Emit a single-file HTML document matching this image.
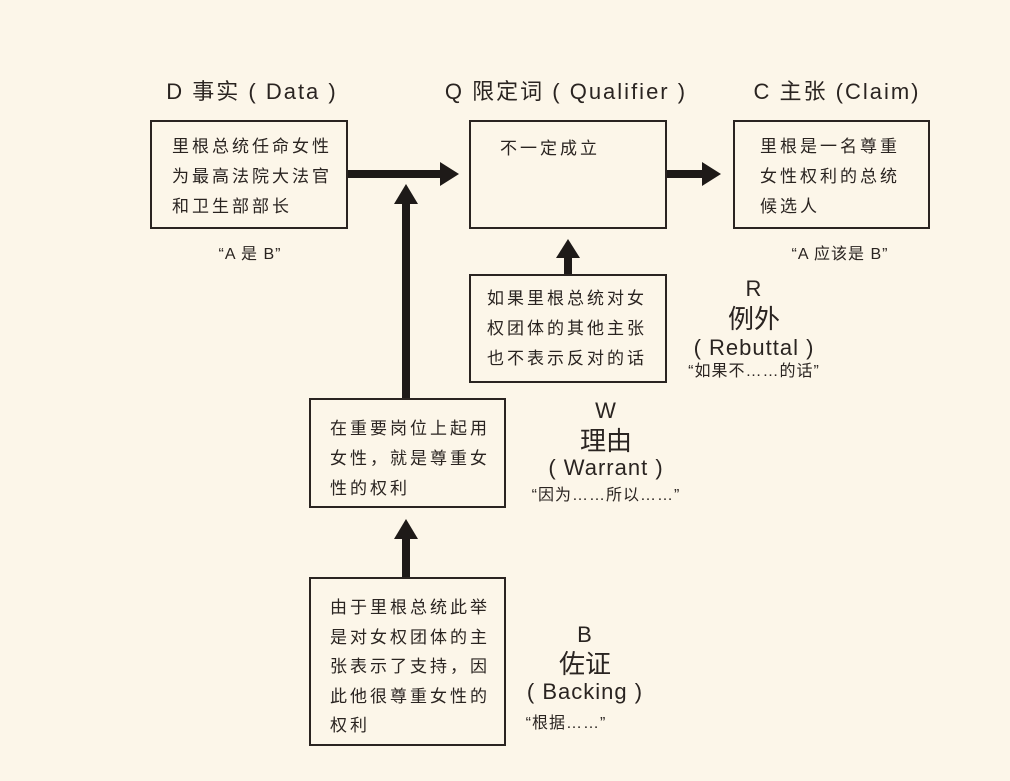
<!DOCTYPE html>
<html><head><meta charset="utf-8"><style>
body{margin:0;width:1010px;height:781px;background:#fcf6e9;position:relative;overflow:hidden;font-family:"Liberation Sans","Noto Sans CJK SC",sans-serif;color:#2a2421}
.box{position:absolute;border:2px solid #2a2421;box-sizing:border-box}
.bt{position:absolute;font-size:17px;letter-spacing:3px;line-height:30px;white-space:nowrap}
.t{position:absolute;white-space:nowrap;transform:translateX(-50%);text-align:center;line-height:1}
.h{font-size:22px;letter-spacing:2px}
.l{font-size:22px;letter-spacing:1px}
.c{font-size:26px}
.s{font-size:16px;letter-spacing:1px}
</style></head><body>
<svg width="1010" height="781" style="position:absolute;left:0;top:0">
<g fill="#1e1a18" stroke="none">
<rect x="347" y="170" width="95" height="8"/><polygon points="440,162 459,174 440,186"/>
<rect x="666" y="170" width="38" height="8"/><polygon points="702,162 721,174 702,186"/>
<rect x="564" y="256" width="8" height="19"/><polygon points="556,258 568,239 580,258"/>
<rect x="402" y="202" width="8" height="197"/><polygon points="394,204 406,184 418,204"/>
<rect x="402" y="537" width="8" height="41"/><polygon points="394,539 406,519 418,539"/>
</g></svg>
<div class="t h" style="left:252px;top:81px">D 事实 ( Data )</div>
<div class="t h" style="left:566px;top:81px">Q 限定词 ( Qualifier )</div>
<div class="t h" style="left:837px;top:81px">C 主张 (Claim)</div>
<div class="box" style="left:150px;top:120px;width:198px;height:109px"></div>
<div class="bt" style="left:172px;top:132px">里根总统任命女性<br>为最高法院大法官<br>和卫生部部长</div>
<div class="t s" style="left:250px;top:247px">“A 是 B”</div>
<div class="box" style="left:469px;top:120px;width:198px;height:109px"></div>
<div class="bt" style="left:500px;top:134px">不一定成立</div>
<div class="box" style="left:733px;top:120px;width:197px;height:109px"></div>
<div class="bt" style="left:760px;top:132px">里根是一名尊重<br>女性权利的总统<br>候选人</div>
<div class="t s" style="left:840px;top:247px">“A 应该是 B”</div>
<div class="box" style="left:469px;top:274px;width:198px;height:109px"></div>
<div class="bt" style="left:487px;top:284px">如果里根总统对女<br>权团体的其他主张<br>也不表示反对的话</div>
<div class="t l" style="left:754px;top:278px">R</div>
<div class="t c" style="left:754px;top:306px">例外</div>
<div class="t l" style="left:754px;top:337px">( Rebuttal )</div>
<div class="t s" style="left:754px;top:364px">“如果不……的话”</div>
<div class="box" style="left:309px;top:398px;width:197px;height:110px"></div>
<div class="bt" style="left:330px;top:414px">在重要岗位上起用<br>女性，就是尊重女<br>性的权利</div>
<div class="t l" style="left:606px;top:400px">W</div>
<div class="t c" style="left:606px;top:428px">理由</div>
<div class="t l" style="left:606px;top:457px">( Warrant )</div>
<div class="t s" style="left:606px;top:488px">“因为……所以……”</div>
<div class="box" style="left:309px;top:577px;width:197px;height:169px"></div>
<div class="bt" style="left:330px;top:593px;line-height:29.5px">由于里根总统此举<br>是对女权团体的主<br>张表示了支持，因<br>此他很尊重女性的<br>权利</div>
<div class="t l" style="left:585px;top:624px">B</div>
<div class="t c" style="left:585px;top:651px">佐证</div>
<div class="t l" style="left:585px;top:681px">( Backing )</div>
<div class="t s" style="left:566px;top:716px">“根据……”</div>
</body></html>
